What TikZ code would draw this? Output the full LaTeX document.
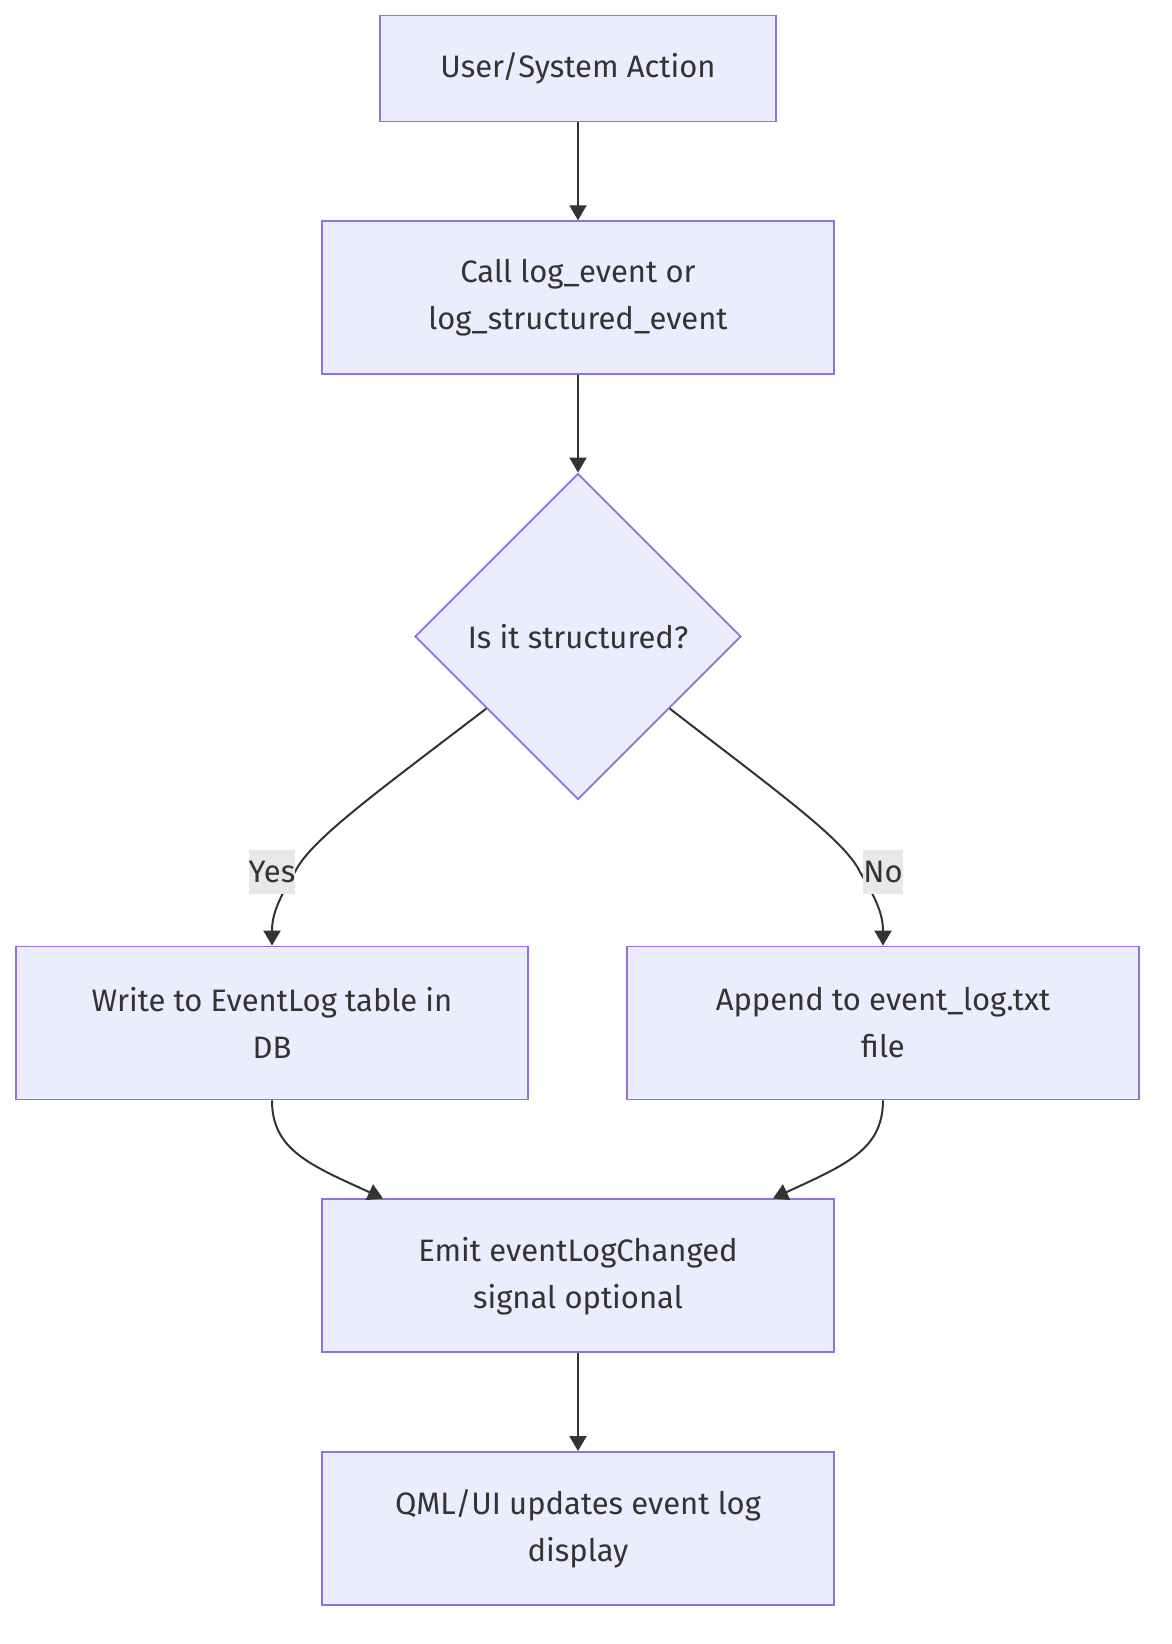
\documentclass[tikz,border=0pt]{standalone}
\usepackage{fontspec}
\setmainfont{Fira Sans}
\usetikzlibrary{arrows.meta,shapes.geometric,calc}
\definecolor{boxfill}{HTML}{ECECFF}
\definecolor{boxline}{HTML}{9370DB}
\definecolor{ink}{HTML}{333333}
\definecolor{lblbg}{HTML}{E8E8E8}
\begin{document}
\begin{tikzpicture}[x=1pt,y=-1pt,
  every node/.style={font=\fontsize{31}{47}\selectfont, text=ink},
  box/.style={draw=boxline, fill=boxfill, line width=1.8pt, minimum width=512pt, minimum height=153pt, align=center, inner sep=0pt},
  dec/.style={draw=boxline, fill=boxfill, line width=1.8pt, diamond, minimum width=326pt, minimum height=326pt, inner sep=0pt, align=center},
  conn/.style={draw=ink, line width=2pt, -{Triangle[length=15pt,width=17pt]}},
  lbl/.style={fill=lblbg, inner sep=0pt, minimum height=44pt}
]
\useasboundingbox (0,0) rectangle (1172,1644);
\fill[white] (0,0) rectangle (1172,1644);

\node[box, minimum width=396pt, minimum height=106pt] (a) at (578,68.5) {User/System Action};
\node[box] (b) at (578,297.7) {Call log\_event or\\log\_structured\_event};
\node[dec] (c) at (578,636.5) {Is it structured?};
\node[box] (d) at (272,1023) {Write to EventLog table in\\DB};
\node[box] (e) at (883,1023) {Append to event\_log.txt\\file};
\node[box] (f) at (578,1275.8) {Emit eventLogChanged\\signal optional};
\node[box] (g) at (578,1528.4) {QML/UI updates event log\\display};

\coordinate (cl) at ($(c.west)!0.44!(c.south)$);
\coordinate (cr) at ($(c.east)!0.44!(c.south)$);
\coordinate (fl) at ($(f.north)+(-195,0)$);
\coordinate (fr) at ($(f.north)+(195,0)$);

\draw[conn] (a) -- (b);
\draw[conn] (b) -- (c);
\draw[conn] (cl) .. controls (380,790) and (310,840) .. (295,872) .. controls (278,900) and (272,915) .. (d.north);
\draw[conn] (cr) .. controls (775,790) and (845,840) .. (860,872) .. controls (877,900) and (883,915) .. (e.north);
\draw[conn] (d.south) .. controls (272,1150) and (310,1165) .. (fl);
\draw[conn] (e.south) .. controls (883,1150) and (845,1165) .. (fr);
\draw[conn] (f) -- (g);

\node[lbl, minimum width=46pt] (ly) at (272,872) {Yes};
\node[lbl, minimum width=37pt] (ln) at (883,872) {No};
\end{tikzpicture}
\end{document}
